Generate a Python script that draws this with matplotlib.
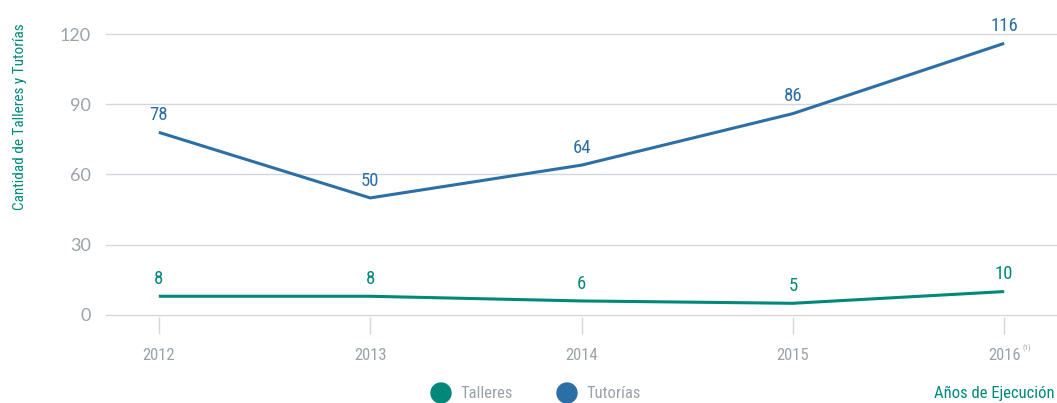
import matplotlib
matplotlib.use("Agg")
import matplotlib.pyplot as plt

years = [2012, 2013, 2014, 2015, 2016]
year_labels = ["2012", "2013", "2014", "2015", "2016"]
talleres = [8, 8, 6, 5, 10]
tutorias = [78, 50, 64, 86, 116]
y_ticks = [0, 30, 60, 90, 120]

TEAL = "#00897b"
BLUE = "#2b6fa6"
GRAY = "#9aa2aa"
GRID = "#d3d7dc"
NARROW = ["Roboto Condensed", "Liberation Sans Narrow", "Roboto", "DejaVu Sans"]

fig = plt.figure(figsize=(10.57, 4.03), dpi=100)
pad = 2.34
ax = fig.add_axes([106 / 1057, (88 - pad) / 403, 1 - 106 / 1057, (281 + 2 * pad) / 403])

ax.plot(years, tutorias, color=BLUE, lw=2.2, clip_on=False, solid_capstyle="butt")
ax.plot(years, talleres, color=TEAL, lw=2.2, clip_on=False, solid_capstyle="butt")

for x, v in zip(years, tutorias):
    ax.annotate(str(v), (x, v), xytext=(0, 6), textcoords="offset points",
                ha="center", va="bottom", color=BLUE, fontsize=13.5, family=NARROW)
for x, v in zip(years, talleres):
    ax.annotate(str(v), (x, v), xytext=(0, 6), textcoords="offset points",
                ha="center", va="bottom", color=TEAL, fontsize=13.5, family=NARROW)

ax.set_xlim(2011.75, 2016.25)
ax.set_ylim(-1, 121)
ax.set_yticks(y_ticks)
ax.set_yticklabels([str(t) for t in y_ticks], color=GRAY, fontsize=13, family=["Lato", "DejaVu Sans"])
ax.set_xticks(years)
ax.set_xticklabels(year_labels, color=GRAY, fontsize=12, family=NARROW)
ax.tick_params(axis="y", length=0, pad=11)
ax.tick_params(axis="x", length=12, width=1, color=GRID, pad=10)
ax.grid(axis="y", color=GRID, lw=1)
ax.set_axisbelow(True)
for s in ax.spines.values():
    s.set_visible(False)

# superscript note on the last year
ax.annotate("(1)", (2016, 0), xytext=(13, -24), textcoords="offset points",
            ha="left", va="center", color=GRAY, fontsize=5.5, family=NARROW)

fig.text(20 / 1057, 1 - 117 / 403, "Cantidad de Talleres y Tutorías", rotation=90,
         ha="center", va="center", color=TEAL, fontsize=11, family=NARROW)
fig.text(1055 / 1057, 1 - 393 / 403, "Años de Ejecución", ha="right", va="center",
         color=TEAL, fontsize=12, family=NARROW)

# legend
for cx, label, c in [(441, "Talleres", TEAL), (567, "Tutorías", BLUE)]:
    fig.patches.append(matplotlib.patches.Ellipse((cx / 1057, 1 - 393 / 403), 20 / 1057, 20 / 403,
                                                  transform=fig.transFigure, color=c))
    fig.text((cx + 19) / 1057, 1 - 393 / 403, label, ha="left", va="center",
             color=GRAY, fontsize=12, family=NARROW)

fig.savefig("out.png", dpi=100)
